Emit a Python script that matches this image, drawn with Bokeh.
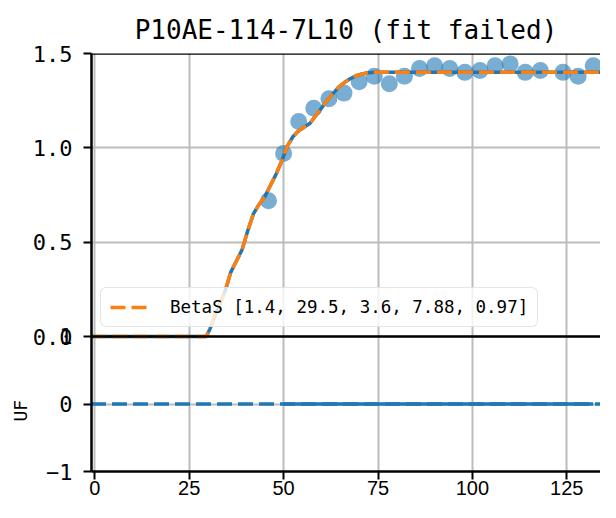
from bokeh.plotting import figure
from bokeh.models import Range1d, FixedTicker, Span, Legend, LegendItem, Title
from bokeh.embed import file_html
from bokeh.resources import INLINE

# ---------------- data ----------------
title_text = "P10AE-114-7L10 (fit failed)"
legend_text = "BetaS [1.4, 29.5, 3.6, 7.88, 0.97]"
lower_ylabel = "UF"

x_ticks = [0, 25, 50, 75, 100, 125]
upper_ticks = [0.0, 0.5, 1.0, 1.5]
upper_labels = ["0.0", "0.5", "1.0", "1.5"]
lower_ticks = [-1, 0, 1]
lower_labels = ["\u22121", "0", "1"]

pts_x = [46, 50, 54, 58, 62, 66, 70, 74, 78, 82, 86, 90, 94, 98, 102, 106,
         110, 114, 118, 124, 128, 132]
pts_y = [0.72, 0.97, 1.14, 1.21, 1.26, 1.29, 1.35, 1.38, 1.34, 1.38, 1.42,
         1.435, 1.42, 1.40, 1.41, 1.435, 1.445, 1.40, 1.41, 1.40, 1.38, 1.435]

fit_x = [-1, 29.5, 30.5, 32, 33.5, 34.5, 36, 37.5, 39, 40.5, 42, 43.5, 45,
         46.5, 48, 49.5, 51, 52.5, 54, 55.5, 57, 58.5, 60, 61.5, 63, 64.5,
         66, 67.5, 69, 70.5, 72, 74, 137]
fit_y = [0, 0, 0.04, 0.12, 0.19, 0.24, 0.34, 0.40, 0.46, 0.56, 0.65, 0.70,
         0.74, 0.80, 0.86, 0.93, 1.01, 1.06, 1.09, 1.11, 1.13, 1.17, 1.21,
         1.25, 1.285, 1.32, 1.345, 1.365, 1.38, 1.39, 1.397, 1.40, 1.40]

uf_fit_x = [-1, 137]
uf_fit_y = [0, 0]
uf_x = [50, 54, 58, 62, 66, 70, 74, 78, 82, 86, 90, 94, 98, 102, 106, 110,
        114, 118, 124, 128, 132]
uf_y = [0] * len(uf_x)

# ---------------- layout ----------------
W, H = 600, 502
frame_left, frame_top, frame_bottom = 91, 53, 471
split = 336                     # pixel row where the upper panel meets the lower one
px_per_x = 3.776
x_start = -(94.3 - frame_left) / px_per_x
x_end = x_start + (W - frame_left) / px_per_x

up_end = 1.5
up_ppu = (split - frame_top) / up_end
up_start = up_end - (frame_bottom - frame_top) / up_ppu

lo_start = -1.0
lo_ppu = (frame_bottom - split) / 2.0
lo_end = 1.0 + (split - frame_top) / lo_ppu


def lo_to_main(v):
    return (v - lo_start) / (lo_end - lo_start) * (up_end - up_start) + up_start


BLUE = "#1f77b4"
ORANGE = "#ff7f0e"
GRID = "#bcbcbc"
MONO = "DejaVu Sans Mono"
SANS = "Liberation Sans"
DASH = "15 6"

p = figure(width=W, height=H, x_range=Range1d(x_start, x_end),
           y_range=Range1d(up_start, up_end),
           output_backend="svg", toolbar_location=None,
           min_border_left=frame_left, min_border_right=0,
           min_border_top=frame_top, min_border_bottom=H - frame_bottom)
p.extra_y_ranges = {"uf": Range1d(lo_start, lo_end)}
p.outline_line_color = None
p.background_fill_color = "white"
p.border_fill_color = "white"

p.title.text = title_text
p.title.align = "center"
p.title.text_font = MONO
p.title.text_font_size = "26px"
p.title.text_font_style = "normal"
p.title.text_color = "black"
p.title.standoff = 17

# x axis
xt = FixedTicker(ticks=x_ticks)
p.xaxis.ticker = xt
p.xgrid.ticker = xt
p.xaxis.axis_line_color = "black"
p.xaxis.axis_line_width = 2.5
p.xaxis.major_tick_line_width = 2
p.xaxis.major_tick_out = 8
p.xaxis.major_tick_in = 0
p.xaxis.minor_tick_line_color = None
p.xaxis.major_label_text_font = SANS
p.xaxis.major_label_text_font_size = "20px"
p.xaxis.major_label_standoff = 1
p.xaxis.major_label_text_color = "black"

# y axis: ticks of both panels on the shared left spine
lower_pos = []
for v in lower_ticks:
    m = lo_to_main(v)
    if any(abs(m - u) < 1e-9 for u in upper_ticks):
        m += 1e-7               # keep the coinciding "1" and "0.0" as two ticks
    lower_pos.append(m)
ytick_pos = lower_pos + upper_ticks
ytick_lab = lower_labels + upper_labels
yt = FixedTicker(ticks=ytick_pos)
p.yaxis.ticker = yt
p.ygrid.ticker = yt
p.yaxis.major_label_overrides = {t: l for t, l in zip(ytick_pos, ytick_lab)}
p.yaxis.axis_line_color = "black"
p.yaxis.axis_line_width = 2.5
p.yaxis.major_tick_line_width = 2
p.yaxis.major_tick_out = 8
p.yaxis.major_tick_in = 0
p.yaxis.minor_tick_line_color = None
p.yaxis.major_label_text_font = MONO
p.yaxis.major_label_text_font_size = "22px"
p.yaxis.major_label_standoff = 11
p.yaxis.major_label_text_color = "black"

for g in (p.xgrid, p.ygrid):
    g.grid_line_color = GRID
    g.grid_line_width = 2

# lower panel y label
p.add_layout(Title(text=lower_ylabel, align="left", offset=50, standoff=-2,
                   text_font=MONO, text_font_size="18px",
                   text_font_style="normal", text_color="black"), "left")

# spines
p.add_layout(Span(location=up_end, dimension="width", line_color="black", line_width=2.5))
p.add_layout(Span(location=0, dimension="width", line_color="black", line_width=2.5))

# upper panel
p.scatter(pts_x, pts_y, size=17, fill_color=BLUE, fill_alpha=0.6, line_color=None)
p.line(fit_x, fit_y, line_color=BLUE, line_width=3.5)
r_beta = p.line(fit_x, fit_y, line_color=ORANGE, line_width=3.5, line_dash=DASH)

# lower panel
p.line(uf_fit_x, uf_fit_y, y_range_name="uf", line_color=BLUE, line_width=3.5, line_dash=DASH)
p.line(uf_x, uf_y, y_range_name="uf", line_color=BLUE, line_width=3.5)

legend = Legend(items=[LegendItem(label=legend_text, renderers=[r_beta])],
                location=(9, 144), margin=0, padding=9, spacing=0,
                glyph_width=37, glyph_height=20, label_standoff=23,
                label_text_font=MONO, label_text_font_size="17.5px",
                label_text_color="black",
                border_line_color="#cccccc", border_line_width=1.5,
                border_radius=6,
                background_fill_color="white", background_fill_alpha=0.8)
p.add_layout(legend)

open("out.html", "w").write(file_html(p, INLINE))
